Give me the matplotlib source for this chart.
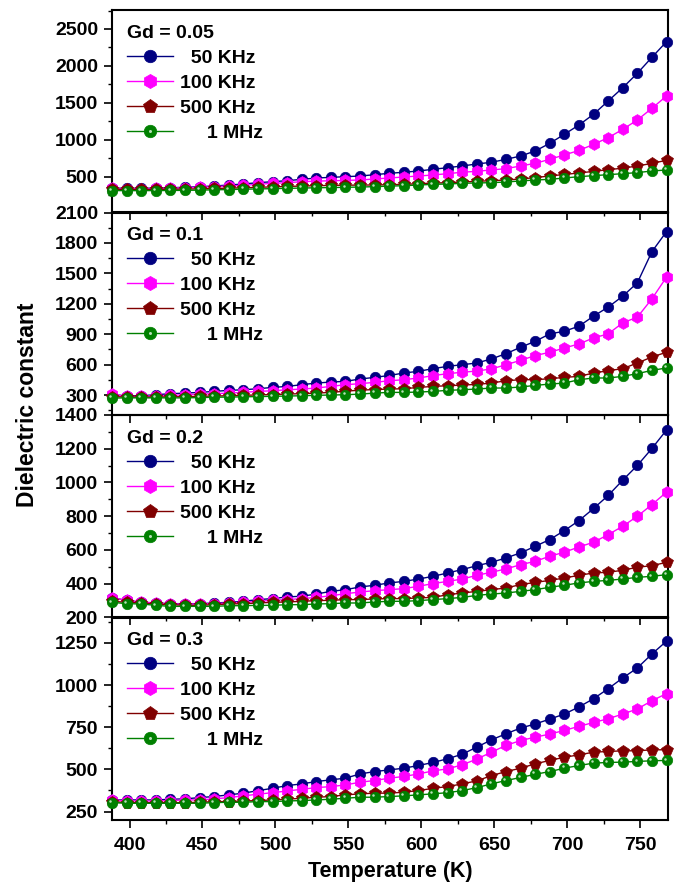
import matplotlib
matplotlib.use('Agg')
import matplotlib.pyplot as plt
from matplotlib.ticker import MultipleLocator
from matplotlib.legend_handler import HandlerTuple
from matplotlib import transforms
import numpy as np

plt.rcParams['font.family'] = ['Liberation Sans', 'DejaVu Sans']
plt.rcParams['font.weight'] = 'bold'

# temperature axis (K), one point every 10 K
temp = np.arange(388, 769, 10)

freq_labels = ['  50 KHz', '100 KHz', '500 KHz', '     1 MHz']
gd_labels = ['Gd = 0.05', 'Gd = 0.1', 'Gd = 0.2', 'Gd = 0.3']

# --- Gd = 0.05 ---
gd005_50k = [345, 343, 343, 345, 351, 356, 365, 374, 387, 401, 419, 432, 446, 464, 482, 491,
             500, 509, 527, 546, 560, 577, 600, 622, 645, 672, 695, 735, 780, 848, 952, 1074,
             1200, 1345, 1525, 1705, 1900, 2117, 2328]
gd005_100k = [340, 338, 338, 340, 345, 351, 356, 365, 374, 383, 396, 410, 419, 432, 440, 445,
              450, 455, 469, 482, 496, 509, 523, 541, 560, 573, 591, 609, 645, 681, 735, 795,
              855, 938, 1028, 1141, 1268, 1426, 1593]
gd005_500k = [330, 328, 328, 328, 330, 332, 335, 340, 345, 350, 356, 362, 368, 373, 378, 382,
              385, 386, 388, 391, 396, 405, 413, 419, 428, 437, 446, 455, 469, 487, 510, 530,
              550, 572, 595, 615, 645, 680, 722]
gd005_1m = [312, 311, 311, 312, 313, 315, 318, 322, 326, 330, 334, 338, 342, 346, 350, 353,
            356, 360, 365, 372, 378, 387, 396, 401, 410, 415, 419, 428, 442, 455, 464, 482,
            500, 514, 527, 541, 555, 577, 591]

# --- Gd = 0.1 ---
gd01_50k = [303, 293, 293, 303, 313, 319, 326, 336, 346, 352, 362, 375, 385, 402, 418, 428,
            435, 458, 474, 493, 517, 534, 560, 583, 599, 616, 656, 708, 771, 830, 903, 929,
            979, 1078, 1167, 1275, 1407, 1714, 1912]
gd01_100k = [309, 286, 286, 293, 296, 303, 309, 313, 319, 326, 336, 342, 352, 359, 369, 385,
             402, 412, 425, 441, 451, 468, 491, 511, 524, 537, 557, 599, 642, 689, 722, 764,
             804, 863, 903, 1012, 1068, 1249, 1463]
gd01_500k = [285, 280, 280, 280, 282, 284, 287, 290, 293, 297, 301, 305, 309, 314, 319, 326,
             338, 348, 354, 359, 362, 375, 385, 392, 398, 405, 418, 441, 451, 451, 461, 474,
             484, 517, 540, 560, 616, 675, 722]
gd01_1m = [270, 272, 272, 272, 272, 272, 275, 278, 280, 282, 285, 287, 290, 293, 297, 300,
           303, 309, 319, 326, 326, 329, 336, 346, 352, 359, 369, 369, 379, 395, 408, 418,
           451, 468, 468, 484, 511, 543, 567]

# --- Gd = 0.2 ---
gd02_50k = [316, 302, 290, 286, 282, 282, 282, 286, 290, 296, 306, 312, 322, 326, 339, 355,
            365, 381, 391, 405, 414, 428, 444, 464, 484, 507, 527, 553, 583, 622, 662, 715,
            774, 846, 923, 1014, 1101, 1202, 1311]
gd02_100k = [316, 302, 292, 286, 280, 280, 280, 282, 286, 290, 296, 302, 306, 312, 319, 329,
             341, 351, 359, 365, 371, 385, 401, 414, 428, 450, 468, 488, 513, 533, 563, 587,
             618, 646, 691, 741, 800, 869, 943]
gd02_500k = [296, 290, 286, 280, 276, 272, 272, 276, 280, 282, 286, 290, 292, 296, 300, 302,
             306, 306, 310, 312, 312, 316, 319, 335, 345, 355, 365, 375, 395, 408, 420, 434,
             450, 464, 468, 480, 498, 507, 527]
gd02_1m = [290, 282, 280, 272, 266, 266, 266, 266, 270, 270, 272, 272, 276, 276, 280, 282,
           286, 286, 292, 296, 296, 300, 306, 312, 319, 331, 339, 345, 355, 365, 379, 391,
           405, 414, 420, 428, 438, 444, 454]

# --- Gd = 0.3 ---
gd03_50k = [319, 319, 319, 319, 323, 325, 333, 339, 349, 359, 374, 388, 404, 414, 428, 438,
            448, 473, 487, 497, 507, 523, 541, 563, 590, 632, 675, 711, 745, 769, 798, 828,
            870, 919, 978, 1042, 1101, 1184, 1260]
gd03_100k = [319, 313, 313, 313, 315, 319, 319, 325, 333, 343, 353, 362, 372, 382, 392, 398,
             408, 424, 434, 448, 458, 473, 491, 503, 527, 561, 602, 642, 671, 691, 709, 731,
             755, 778, 800, 828, 858, 907, 949]
gd03_500k = [309, 303, 303, 303, 303, 303, 305, 309, 309, 313, 315, 319, 323, 329, 335, 339,
             349, 355, 359, 359, 365, 374, 388, 398, 414, 432, 463, 487, 507, 533, 553, 572,
             586, 602, 606, 610, 610, 616, 616]
gd03_1m = [303, 299, 299, 299, 299, 299, 299, 303, 305, 305, 309, 309, 313, 315, 319, 323,
           329, 335, 335, 339, 343, 349, 355, 362, 374, 392, 414, 434, 452, 471, 487, 507,
           523, 537, 541, 543, 547, 551, 553]

panels = [
    (gd_labels[0], [gd005_50k, gd005_100k, gd005_500k, gd005_1m], (15, 2757), 500, 250),
    (gd_labels[1], [gd01_50k, gd01_100k, gd01_500k, gd01_1m], (103, 2100), 300, 150),
    (gd_labels[2], [gd02_50k, gd02_100k, gd02_500k, gd02_1m], (200, 1400), 200, 100),
    (gd_labels[3], [gd03_50k, gd03_100k, gd03_500k, gd03_1m], (200, 1400), 250, 125),
]

colors = ['#000080', '#FF00FF', '#800000', '#008000']
markers = ['o', 'h', 'p', 'o']
msizes = [7.5, 8.5, 8.5, 7.5]

fig = plt.figure(figsize=(6.77, 8.86), dpi=100)

ax_left = 112 / 677
ax_w = 556 / 677
ax_h = 202.5 / 886
bottoms = [0.76016, 0.53160, 0.30305, 0.07449]

for k, (gd, series, ylim, ymaj, ymin) in enumerate(panels):
    ax = fig.add_axes([ax_left, bottoms[k], ax_w, ax_h], zorder=10 - k)
    ax.set_facecolor('none')

    hl = transforms.offset_copy(ax.transData, fig=fig, x=-1.3, y=1.3, units='points')
    handles = []
    for j, vals in enumerate(series):
        ln, = ax.plot(temp, vals, color=colors[j], marker=markers[j], markersize=msizes[j],
                      markeredgecolor=colors[j], markeredgewidth=0.5, linewidth=1.0,
                      clip_on=False, zorder=3 + j)
        if j == 3:
            # little shine spot on the green balls
            spot, = ax.plot(temp, vals, linestyle='none', marker='o', markersize=1.8,
                            color='#b8e0b8', markeredgewidth=0, transform=hl,
                            clip_on=False, zorder=7)
            handles.append((ln, spot))
        else:
            handles.append(ln)

    ax.set_xlim(388, 769)
    ax.set_ylim(*ylim)
    ax.xaxis.set_major_locator(MultipleLocator(50))
    ax.xaxis.set_minor_locator(MultipleLocator(25))
    ax.yaxis.set_major_locator(MultipleLocator(ymaj))
    ax.yaxis.set_minor_locator(MultipleLocator(ymin))
    ax.tick_params(which='major', direction='out', length=6, width=1.2, labelsize=14, pad=4)
    ax.tick_params(which='minor', direction='out', length=3, width=1.0)
    ax.tick_params(axis='x', which='both', top=False)
    ax.tick_params(axis='y', which='both', right=False)
    if k < 3:
        ax.tick_params(axis='x', labelbottom=False)
    else:
        ax.tick_params(axis='x', pad=6)
    for lab in ax.get_xticklabels() + ax.get_yticklabels():
        lab.set_fontweight('bold')
    for sp in ax.spines.values():
        sp.set_linewidth(1.5)

    leg = ax.legend(handles, freq_labels, title=gd, loc='upper left',
                    bbox_to_anchor=(0.0, 1.0), frameon=False, fontsize=14,
                    title_fontproperties={'weight': 'bold', 'size': 14},
                    alignment='left', handlelength=2.4, handletextpad=0.35,
                    labelspacing=0.38, borderaxespad=0.4, borderpad=0.35,
                    markerscale=1.2, numpoints=1,
                    handler_map={tuple: HandlerTuple(ndivide=1)})
    for t in leg.get_texts():
        t.set_fontweight('bold')

fig.text(390 / 677, 1 - 872 / 886, 'Temperature (K)', ha='center', va='center',
         fontsize=15.5, fontweight='bold')
fig.text(28 / 677, 1 - 405 / 886, 'Dielectric constant', ha='center', va='center',
         rotation=90, fontsize=16.5, fontweight='bold')

fig.savefig('out.png', dpi=100)
